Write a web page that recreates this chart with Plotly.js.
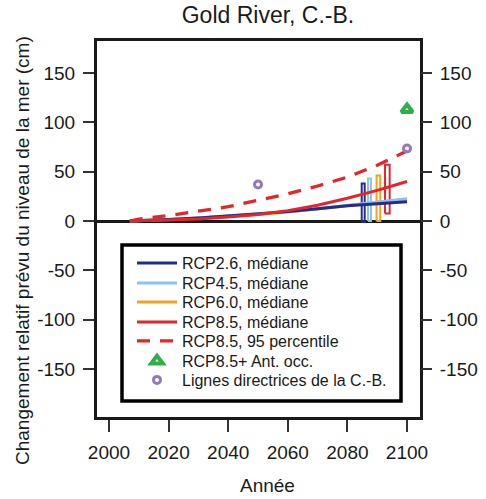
<!DOCTYPE html>
<html><head><meta charset="utf-8">
<script src="https://cdn.plot.ly/plotly-3.0.1.min.js"></script>
<style>html,body{margin:0;padding:0;background:#fff}</style>
</head><body><div id="chart" style="width:486px;height:499px"></div>
<script>
// ---- data ----
const years = [2007, 2010, 2020, 2030, 2040, 2050, 2060, 2070, 2080, 2090, 2100];
const rcp26 = [0, 0.5, 1.5, 3, 5, 7, 9.5, 12.5, 15.5, 17.5, 19.5];
const rcp45 = [0, 0.5, 1.5, 3, 5, 7, 9.5, 12.5, 16, 19.5, 22.5];
const rcp60 = [0, 0.5, 1.5, 3, 4.5, 6.5, 9, 12, 15.5, 19, 22];
const rcp85 = [0, 0.5, 1, 2, 4, 6.5, 10.5, 16, 23, 31, 40];
const rcp85p95 = [0, 2, 5.5, 10, 14.5, 21, 27.5, 35.5, 44.5, 56.5, 71];
const rangeNames = ['RCP2.6', 'RCP4.5', 'RCP6.0', 'RCP8.5'];
const rangeYear = [2085.3, 2087.4, 2090.4, 2093.4];
const rangeLow = [-1, 0, 0, 7.5];
const rangeHigh = [38, 43, 46, 57];
const antYear = [2100];
const antValue = [113];
const bcYear = [2050, 2100];
const bcValue = [37, 73.5];
const xTicks = [2000, 2020, 2040, 2060, 2080, 2100];
const yTicks = [-150, -100, -50, 0, 50, 100, 150];
const legendLabels = ['RCP2.6, médiane', 'RCP4.5, médiane', 'RCP6.0, médiane', 'RCP8.5, médiane',
  'RCP8.5, 95 percentile', 'RCP8.5+ Ant. occ.', 'Lignes directrices de la C.-B.'];

// ---- styles ----
const FONT = 'Liberation Sans, Arial, Helvetica, sans-serif';
const INK = '#1a1a1a';
const colors = ['#232c8c', '#8dc3ea', '#f4a21c', '#e2262b'];
const RED = '#e2262b';
const GREEN = '#2fae4a';
const PURPLE = '#9479b9';
const boxHalf = [0.5, 0.5, 0.62, 0.78];

// pixel helpers for paper placement
const L = 97, R = 420, T = 41, B = 417;
const px = v => (v - L) / (R - L);
const py = v => (B - v) / (B - T);
const legendRowsPx = [263, 283, 302, 322, 341, 361, 380];
const legendNames = ['legend', 'legend2', 'legend3', 'legend4', 'legend5', 'legend6', 'legend7'];

const traces = [];
// range boxes
rangeYear.forEach((yr, i) => {
  const h = boxHalf[i];
  traces.push({
    type: 'scatter', mode: 'lines', showlegend: false, hoverinfo: 'skip',
    x: [yr - h, yr + h, yr + h, yr - h, yr - h],
    y: [rangeLow[i], rangeLow[i], rangeHigh[i], rangeHigh[i], rangeLow[i]],
    line: {color: colors[i], width: 2}
  });
});
const medians = [rcp60, rcp45, rcp26, rcp85];
const medianIdx = [2, 1, 0, 3];
medianIdx.forEach((ci, k) => {
  traces.push({
    type: 'scatter', mode: 'lines', x: years, y: medians[k],
    name: legendLabels[ci], legend: legendNames[ci],
    line: {color: colors[ci], width: 3}
  });
});
traces.push({
  type: 'scatter', mode: 'lines', x: years, y: rcp85p95,
  name: legendLabels[4], legend: legendNames[4],
  line: {color: RED, width: 3.3, dash: '13px,10px'}
});
traces.push({
  type: 'scatter', mode: 'markers', x: antYear, y: antValue,
  name: legendLabels[5], legend: legendNames[5],
  marker: {symbol: 'triangle-up-open', size: 10, color: GREEN, line: {width: 4, color: GREEN}}
});
traces.push({
  type: 'scatter', mode: 'markers', x: bcYear, y: bcValue, yaxis: 'y2',
  name: legendLabels[6], legend: legendNames[6],
  marker: {symbol: 'circle-open', size: 7, color: PURPLE, line: {width: 3, color: PURPLE}}
});

const yRange = [-198.6, 182.4];
const tickFont = {family: FONT, size: 19, color: INK};
const layout = {
  width: 486, height: 499,
  margin: {l: L, r: 486 - R, t: T, b: 499 - B, pad: 0},
  paper_bgcolor: '#fff', plot_bgcolor: '#fff',
  font: {family: FONT, color: INK},
  title: {text: 'Gold River, C.-B.', font: {family: FONT, size: 23, color: INK},
    xref: 'paper', x: px(268), xanchor: 'center', yref: 'container', y: 1 - 15 / 499, yanchor: 'middle'},
  xaxis: {range: [1995.97, 2104.36], tickvals: xTicks, ticktext: xTicks.map(String),
    showline: true, mirror: true, linewidth: 3, linecolor: INK,
    ticks: 'outside', ticklen: 12, tickwidth: 2, tickcolor: '#333',
    showgrid: false, zeroline: false, tickfont: tickFont, ticklabelstandoff: 4},
  yaxis: {range: yRange, tickvals: yTicks, ticktext: yTicks.map(String),
    showline: true, mirror: true, linewidth: 3, linecolor: INK,
    ticks: 'outside', ticklen: 11, tickwidth: 2, tickcolor: '#333',
    showgrid: false, zeroline: true, zerolinewidth: 3, zerolinecolor: INK,
    tickfont: tickFont, ticklabelstandoff: 4},
  yaxis2: {range: yRange, overlaying: 'y', side: 'right', tickvals: yTicks, ticktext: yTicks.map(String),
    showline: false, ticks: 'outside', ticklen: 11, tickwidth: 2, tickcolor: '#333',
    showgrid: false, zeroline: false, tickfont: tickFont, ticklabelstandoff: 4},
  shapes: [{type: 'rect', xref: 'paper', yref: 'paper', x0: px(122), x1: px(401), y0: py(401), y1: py(245),
    line: {color: '#000', width: 3.5}, fillcolor: 'rgba(0,0,0,0)'}],
  annotations: [
    {text: 'Changement relatif prévu du niveau de la mer (cm)', xref: 'paper', yref: 'paper',
      x: px(22), y: py(251), xanchor: 'center', yanchor: 'middle', textangle: -90, showarrow: false,
      font: {family: FONT, size: 19, color: INK}},
    {text: 'Année', xref: 'paper', yref: 'paper', x: px(267), y: py(485), xanchor: 'center', yanchor: 'middle',
      showarrow: false, font: {family: FONT, size: 19, color: INK}}
  ],
  showlegend: true
};
legendNames.forEach((ln, i) => {
  layout[ln] = {x: px(132), xanchor: 'left', y: py(legendRowsPx[i]), yanchor: 'middle',
    bgcolor: 'rgba(0,0,0,0)', borderwidth: 0, itemwidth: 40,
    font: {family: FONT, size: 16, color: INK}};
});

Plotly.newPlot('chart', traces, layout, {displayModeBar: false, staticPlot: true});
</script></body></html>
